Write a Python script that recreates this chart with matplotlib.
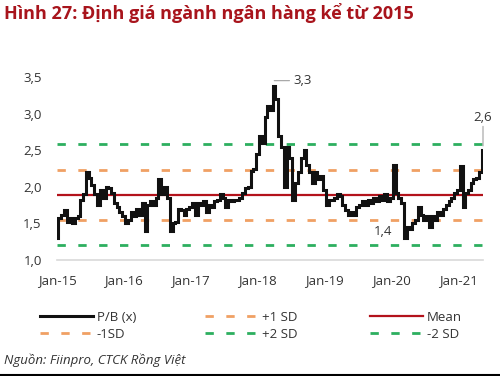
import matplotlib
matplotlib.use("Agg")
import matplotlib.pyplot as plt
from matplotlib.lines import Line2D
import numpy as np
import pandas as pd

# --- data: bank sector P/B, semi-monthly readings ---
start_date = "2015-01-01"
pb_values = [
    # 2015
    1.30, 1.58, 1.62, 1.68, 1.52, 1.58, 1.50, 1.58, 1.60, 1.82, 1.90, 2.20,
    2.12, 2.02, 1.90, 1.75, 1.95, 1.85, 2.00, 1.98, 1.92, 1.78, 1.72, 1.65,
    # 2016
    1.60, 1.50, 1.55, 1.65, 1.60, 1.70, 1.62, 1.78, 1.40, 1.75, 1.80, 1.75,
    1.85, 2.10, 1.90, 2.00, 1.85, 1.40, 1.50, 1.52, 1.70, 1.68, 1.62, 1.70,
    # 2017
    1.72, 1.78, 1.62, 1.78, 1.75, 1.80, 1.65, 1.75, 1.72, 1.80, 1.82, 1.90,
    1.85, 1.72, 1.82, 1.80, 1.82, 1.82, 1.85, 1.92, 1.98, 2.00, 2.22, 2.25,
    # 2018
    2.45, 2.70, 2.60, 2.95, 3.10, 3.05, 3.38, 3.20, 2.70, 2.55, 2.00, 2.55,
    2.40, 1.82, 2.05, 2.20, 2.40, 2.50, 2.30, 2.20, 2.05, 2.20, 2.10, 2.15,
    # 2019
    1.95, 1.75, 1.82, 1.82, 1.85, 1.90, 1.88, 1.75, 1.68, 1.62, 1.65, 1.62,
    1.72, 1.75, 1.80, 1.75, 1.82, 1.78, 1.85, 1.80, 1.88, 1.82, 1.90, 1.80,
    # 2020
    1.85, 2.30, 1.92, 1.85, 1.78, 1.30, 1.45, 1.42, 1.50, 1.55, 1.72, 1.62,
    1.55, 1.60, 1.45, 1.60, 1.55, 1.65, 1.62, 1.70, 1.75, 1.80, 1.85, 1.92,
    # 2021
    1.95, 2.28, 1.72, 1.92, 1.95, 2.05, 2.10, 2.12, 2.20, 2.50,
]
mean_pb = 1.89
sd_pb = 0.345

tick_years = [2015, 2016, 2017, 2018, 2019, 2020, 2021]
tick_labels = ["Jan-15", "Jan-16", "Jan-17", "Jan-18", "Jan-19", "Jan-20", "Jan-21"]
y_ticks = [1.0, 1.5, 2.0, 2.5, 3.0, 3.5]

title = "Hình 27: Định giá ngành ngân hàng kể từ 2015"
source = "Nguồn: Fiinpro, CTCK Rồng Việt"

# --- styling ---
plt.rcParams["font.family"] = ["Open Sans", "DejaVu Sans"]
BLACK = "#111111"
RED = "#B3121B"
ORANGE = "#F0A064"
GREEN = "#2DAF5F"
TXT = "#333333"
dash = (3, 4.5)

dates = pd.date_range(start_date, periods=len(pb_values), freq="SMS")

fig = plt.figure(figsize=(5, 3.76), dpi=100)
ax = fig.add_axes([57 / 500, 1 - 260 / 376, 426 / 500, 183 / 376])

ax.plot(dates, pb_values, color=BLACK, lw=2.2, drawstyle="steps-mid", zorder=5,
        solid_joinstyle="miter")
ax.axhline(mean_pb, color=RED, lw=1.6, zorder=3)
for k, c in [(1, ORANGE), (-1, ORANGE), (2, GREEN), (-2, GREEN)]:
    ax.axhline(mean_pb + k * sd_pb, color=c, lw=2.0, dashes=dash, zorder=2)

ax.set_xlim(dates[0], dates[-1])
ax.set_ylim(1.0, 3.5)
ax.set_yticks(y_ticks)
ax.set_yticklabels([f"{v:.1f}".replace(".", ",") for v in y_ticks])
ax.set_xticks([pd.Timestamp(f"{y}-01-01") for y in tick_years])
ax.set_xticklabels(tick_labels)
ax.tick_params(length=0, labelsize=9.5, colors=TXT)
ax.tick_params(axis="y", pad=11)
ax.tick_params(axis="x", pad=10)
for s in ["top", "right", "left"]:
    ax.spines[s].set_visible(False)
ax.spines["bottom"].set_color("#D9D9D9")
ax.spines["bottom"].set_linewidth(1.2)

# annotations
vals = np.array(pb_values)
i_max = int(vals.argmax())
ax.annotate("3,3", xy=(dates[i_max], vals[i_max] + 0.07), xytext=(14, 0),
            textcoords="offset points", ha="left", va="center", fontsize=9.5,
            color=TXT, arrowprops=dict(arrowstyle="-", color="#A0A0A0", lw=0.8,
                                       shrinkA=1, shrinkB=0))
# low of the 2020 sell-off
recent = dates >= pd.Timestamp("2020-01-01")
i_min = int(np.where(recent)[0][vals[recent].argmin()])
ax.annotate("1,4", xy=(dates[i_min], vals[i_min]), xytext=(-9, 5),
            textcoords="offset points", ha="right", va="center", fontsize=9.5,
            color=TXT)
ax.annotate("2,6", xy=(dates[-1], vals[-1] + 0.06), xytext=(0, 16),
            textcoords="offset points", ha="center", va="bottom", fontsize=9.5,
            color=TXT, annotation_clip=False,
            arrowprops=dict(arrowstyle="-", color="#A0A0A0", lw=0.8,
                            shrinkA=0, shrinkB=0))

# legend, three columns of two rows
cols = [
    [(Line2D([], [], color=BLACK, lw=2.2), "P/B (x)"),
     (Line2D([], [], color=ORANGE, lw=2.0, dashes=dash), "-1SD")],
    [(Line2D([], [], color=ORANGE, lw=2.0, dashes=dash), "+1 SD"),
     (Line2D([], [], color=GREEN, lw=2.0, dashes=dash), "+2 SD")],
    [(Line2D([], [], color=RED, lw=1.6), "Mean"),
     (Line2D([], [], color=GREEN, lw=2.0, dashes=dash), "-2 SD")],
]
for x0, col in zip([40, 205, 370], cols):
    leg = fig.legend([h for h, _ in col], [t for _, t in col],
                     loc="upper left", bbox_to_anchor=(x0 / 500, 1 - 311 / 376),
                     frameon=False, fontsize=9.5, handlelength=4.0,
                     handletextpad=0.3, borderpad=0, borderaxespad=0,
                     labelspacing=0.3)
    for t in leg.get_texts():
        t.set_color(TXT)

fig.text(4 / 500, 1 - 13 / 376, title, fontsize=13, fontweight="bold",
         color="#A8141C", ha="left", va="center")
fig.text(4 / 500, 1 - 360 / 376, source, fontsize=9.5, style="italic",
         color=TXT, ha="left", va="center")
fig.add_artist(Line2D([0, 1], [0.002, 0.002], transform=fig.transFigure,
                      color="black", lw=1.5))

fig.savefig("out.png", dpi=100)
